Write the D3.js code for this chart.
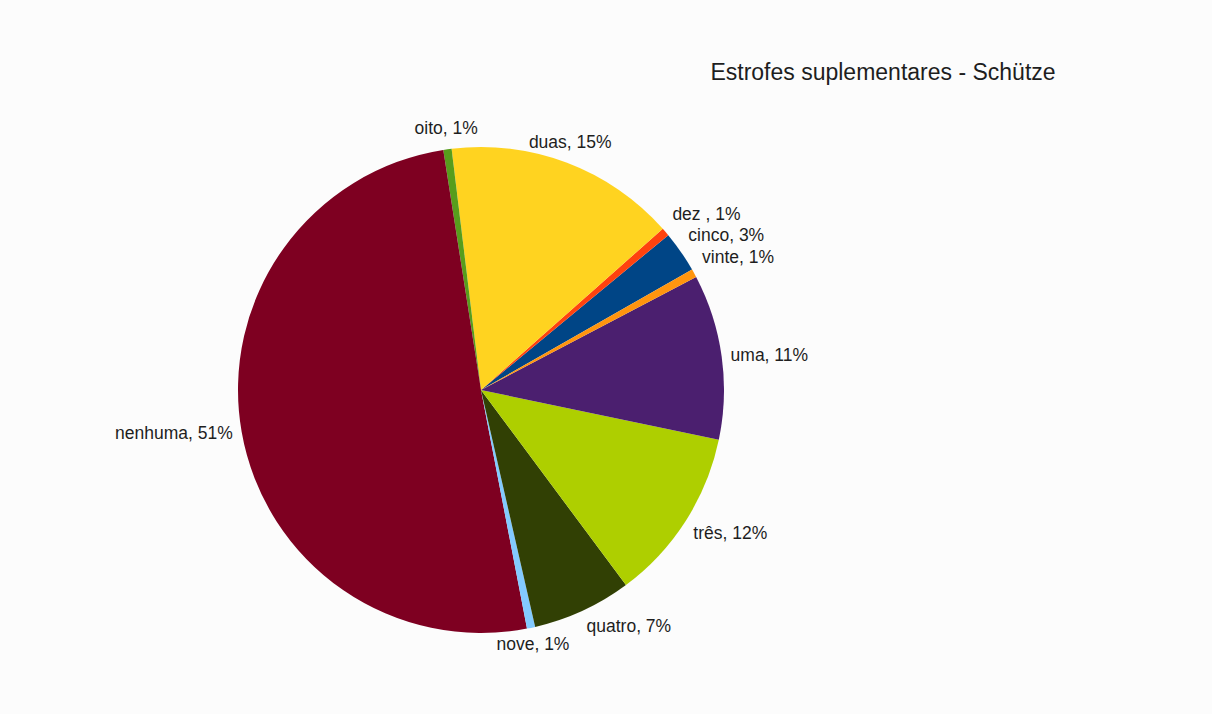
<!DOCTYPE html>
<html>
<head>
<meta charset="utf-8">
<script src="https://cdn.jsdelivr.net/npm/d3@7/dist/d3.min.js"></script>
<style>
  html, body { margin: 0; padding: 0; background: #fcfcfc; }
  svg { display: block; }
  text { font-family: "Liberation Sans", Arial, sans-serif; fill: #1e1e1e; }
</style>
</head>
<body>
<svg id="chart" width="1212" height="714"></svg>
<script>
// Number of supplementary stanzas (counts per category)
const categories = ["cinco", "dez ", "duas", "oito", "nenhuma", "nove", "quatro", "três", "uma", "vinte"];
const counts     = [5, 1, 28, 1, 92, 1, 12, 21, 20, 1];
const colors     = ["#004586", "#ff420e", "#ffd320", "#579d1c", "#7e0021",
                    "#83caff", "#314004", "#aecf00", "#4b1f6f", "#ff950e"];
const title = "Estrofes suplementares - Schütze";

const svg = d3.select("#chart");
const cx = 481, cy = 390, radius = 243;

const total = d3.sum(counts);
const data = categories.map((c, i) => ({ name: c, value: counts[i], color: colors[i] }));

// Slices run counter-clockwise from the start angle
const start = 60.3 * Math.PI / 180;
const pie = d3.pie().value(d => d.value).sort(null)
  .startAngle(start).endAngle(start - 2 * Math.PI);
const arcs = pie(data);

const arc = d3.arc().innerRadius(0).outerRadius(radius);

const g = svg.append("g").attr("transform", `translate(${cx},${cy})`);

g.selectAll("path.slice")
  .data(arcs)
  .join("path")
  .attr("class", "slice")
  .attr("d", arc)
  .attr("fill", d => d.data.color);

// Labels sit just outside the rim, aligned by the direction of the slice's middle
const fmt = d => `${d.data.name}, ${Math.round(d.data.value / total * 100)}%`;
const labelR = radius + 9;
const lim = Math.sin(22.5 * Math.PI / 180);

g.selectAll("text.lbl")
  .data(arcs)
  .join("text")
  .attr("class", "lbl")
  .style("font-size", "17.5px")
  .each(function (d) {
    const a = (d.startAngle + d.endAngle) / 2;
    const s = Math.sin(a), c = Math.cos(a);
    const x = labelR * s, y = -labelR * c;
    const anchor = s > lim ? "start" : (s < -lim ? "end" : "middle");
    // baseline offset: above the point for upper slices, below for lower ones
    let dy;
    if (c > lim) dy = -6;
    else if (c < -lim) dy = 13;
    else dy = 6;
    d3.select(this)
      .attr("x", x)
      .attr("y", y + dy)
      .attr("text-anchor", anchor)
      .text(fmt(d));
  });

svg.append("text")
  .attr("x", 883)
  .attr("y", 80)
  .attr("text-anchor", "middle")
  .style("font-size", "23px")
  .text(title);
</script>
</body>
</html>
